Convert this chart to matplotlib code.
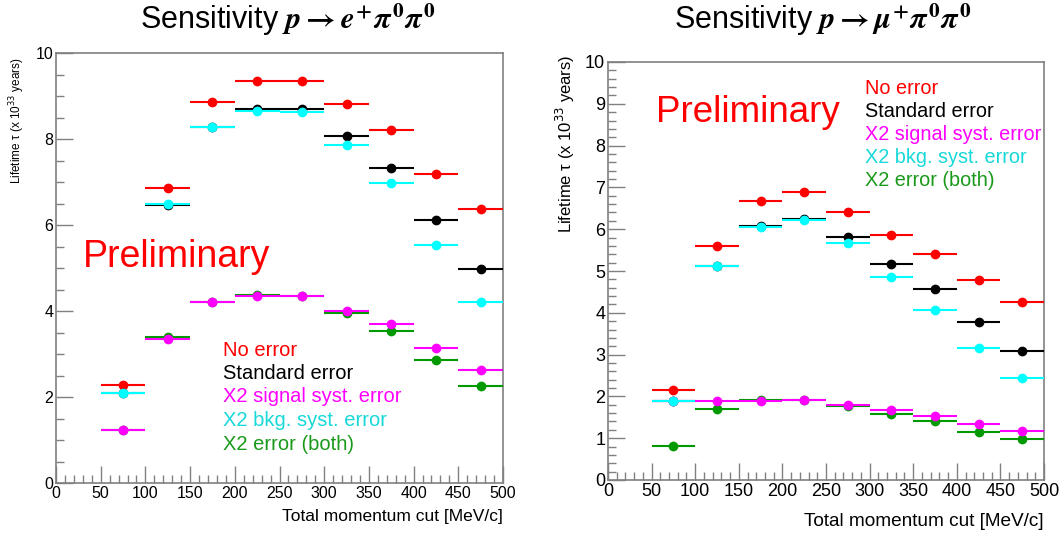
import matplotlib
matplotlib.use('Agg')
import matplotlib.pyplot as plt
from matplotlib.ticker import MultipleLocator

plt.rcParams['font.family'] = ['Liberation Sans', 'DejaVu Sans']
plt.rcParams['mathtext.fontset'] = 'custom'
plt.rcParams['mathtext.it'] = 'STIXGeneral:italic:bold'
plt.rcParams['mathtext.rm'] = 'STIXGeneral:bold'
plt.rcParams['mathtext.bf'] = 'STIXGeneral:bold'

# bin centres of the momentum cut (MeV/c), half width 25
bins = [75, 125, 175, 225, 275, 325, 375, 425, 475]
half_width = 25

labels = ['No error', 'Standard error', 'X2 signal syst. error',
          'X2 bkg. syst. error', 'X2 error (both)']

# p -> e+ pi0 pi0
e_no_err = [2.29, 6.86, 8.87, 9.34, 9.34, 8.81, 8.22, 7.19, 6.37]
e_std_err = [2.09, 6.47, 8.28, 8.70, 8.70, 8.07, 7.33, 6.11, 4.98]
e_sig_x2 = [1.24, 3.35, 4.20, 4.34, 4.34, 4.01, 3.70, 3.14, 2.63]
e_bkg_x2 = [2.09, 6.49, 8.28, 8.64, 8.62, 7.87, 6.98, 5.53, 4.22]
e_both_x2 = [1.24, 3.39, 4.22, 4.38, 4.34, 3.95, 3.53, 2.87, 2.26]

# p -> mu+ pi0 pi0
mu_no_err = [2.15, 5.59, 6.67, 6.89, 6.41, 5.87, 5.41, 4.79, 4.27]
mu_std_err = [1.89, 5.11, 6.08, 6.25, 5.81, 5.17, 4.58, 3.79, 3.08]
mu_sig_x2 = [1.89, 1.89, 1.90, 1.92, 1.79, 1.68, 1.54, 1.35, 1.17]
mu_bkg_x2 = [1.89, 5.13, 6.06, 6.22, 5.66, 4.85, 4.06, 3.15, 2.44]
mu_both_x2 = [0.82, 1.70, 1.92, 1.92, 1.77, 1.58, 1.41, 1.16, 0.97]

colors = ['#ff0000', '#000000', '#ff00ff', '#00ffff', '#009a00']
text_colors = ['#ff0000', '#000000', '#ff00ff', '#18d8d8', '#1a9a1a']
draw_order = [0, 1, 4, 2, 3]


def draw_panel(ax, series, big):
    for z, i in enumerate(draw_order):
        ax.errorbar(bins, series[i], xerr=half_width, fmt='o', ms=6,
                    color=colors[i], elinewidth=1.5, capsize=0, zorder=3 + z)
    ax.set_xlim(0, 500)
    ax.set_ylim(0, 10)
    ax.xaxis.set_major_locator(MultipleLocator(50))
    ax.xaxis.set_minor_locator(MultipleLocator(10))
    if big:
        ax.yaxis.set_major_locator(MultipleLocator(1))
        ax.yaxis.set_minor_locator(MultipleLocator(0.2))
        fs = 13
    else:
        ax.yaxis.set_major_locator(MultipleLocator(2))
        ax.yaxis.set_minor_locator(MultipleLocator(0.5))
        fs = 11.5
    ax.tick_params(which='both', direction='in', color='#808080', labelsize=fs,
                   top=False, right=False, pad=2)
    ax.tick_params(which='major', length=12, width=1)
    ax.tick_params(which='minor', length=6, width=1)
    for sp in ax.spines.values():
        sp.set_color('#808080')
        sp.set_linewidth(1.2)


fig = plt.figure(figsize=(10.62, 5.36), dpi=100)

# left panel
ax1 = fig.add_axes([56 / 1062, 1 - 483 / 536, 447 / 1062, 430 / 536])
draw_panel(ax1, [e_no_err, e_std_err, e_sig_x2, e_bkg_x2, e_both_x2], False)
for k, lab in enumerate(labels):
    fig.text(223 / 1062, 1 - (350 + 23.5 * k) / 536, lab, color=text_colors[k],
             fontsize=14.5, ha='left', va='center')
fig.text(83 / 1062, 1 - 257 / 536, 'Preliminary', color='red', fontsize=27,
         ha='left', va='center')
fig.text(288 / 1062, 1 - 20 / 536, r'Sensitivity $p\rightarrow e^{+}\pi^{0}\pi^{0}$',
         fontsize=22, ha='center', va='center')
fig.text(17 / 1062, 1 - 57 / 536, r'Lifetime τ (x 10$^{33}$ years)', fontsize=8.5,
         rotation=90, ha='center', va='top', math_fontfamily='dejavusans')
fig.text(503 / 1062, 1 - 516 / 536, 'Total momentum cut [MeV/c]', fontsize=12.5,
         ha='right', va='center')

# right panel
ax2 = fig.add_axes([608 / 1062, 1 - 480 / 536, 436 / 1062, 418 / 536])
draw_panel(ax2, [mu_no_err, mu_std_err, mu_sig_x2, mu_bkg_x2, mu_both_x2], True)
for k, lab in enumerate(labels):
    fig.text(865 / 1062, 1 - (88 + 23.2 * k) / 536, lab, color=text_colors[k],
             fontsize=14.3, ha='left', va='center')
fig.text(656 / 1062, 1 - 113 / 536, 'Preliminary', color='red', fontsize=26.5,
         ha='left', va='center')
fig.text(823 / 1062, 1 - 20 / 536, r'Sensitivity $p\rightarrow \mu^{+}\pi^{0}\pi^{0}$',
         fontsize=22, ha='center', va='center')
fig.text(565 / 1062, 1 - 55 / 536, r'Lifetime τ (x 10$^{33}$ years)', fontsize=12,
         rotation=90, ha='center', va='top', math_fontfamily='dejavusans')
fig.text(1044 / 1062, 1 - 522 / 536, 'Total momentum cut [MeV/c]', fontsize=13.7,
         ha='right', va='center')

fig.savefig('out.png', dpi=100)
